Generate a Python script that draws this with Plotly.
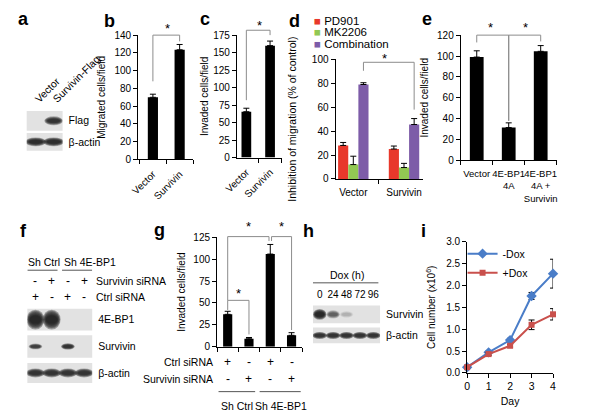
import plotly.graph_objects as go

W, H = 603, 419

# ---------------- data ----------------
b_cats = ["Vector", "Survivin"]
b_vals = [70, 123.5]
b_err = [3.5, 6]

c_cats = ["Vector", "Survivin"]
c_vals = [65.5, 160]
c_err = [5, 6.5]

d_groups = ["Vector", "Survivin"]
d_series = ["PD901", "MK2206", "Combination"]
d_pd901 = [28, 25]
d_pd901_err = [2.5, 2.5]
d_mk2206 = [12, 9.5]
d_mk2206_err = [7, 3.5]
d_combo = [79, 45.5]
d_combo_err = [1.5, 5]

e_cats = ["Vector", "4E-BP1<br>4A", "4E-BP1<br>4A +<br>Survivin"]
e_vals = [99, 31.5, 104.5]
e_err = [6, 4.5, 5.5]

g_cats = ["1", "2", "3", "4"]
g_vals = [37, 9, 106, 13]
g_err = [3.5, 1.5, 11, 3]
g_ctrl_sirna = ["+", "-", "+", "-"]
g_surv_sirna = ["-", "+", "-", "+"]
g_groups = ["Sh Ctrl", "Sh 4E-BP1"]

i_days = [0, 1, 2, 3, 4]
i_minus = [0.13, 0.47, 0.75, 1.76, 2.27]
i_minus_err = [0.02, 0.03, 0.04, 0.08, 0.33]
i_plus = [0.13, 0.43, 0.62, 1.10, 1.34]
i_plus_err = [0.02, 0.03, 0.03, 0.11, 0.13]

a_lanes = ["Vector", "Survivin-Flag"]
a_flag = [0.0, 0.85]
a_actin = [0.9, 0.9]

f_groups = ["Sh Ctrl", "Sh 4E-BP1"]
f_surv_sirna = ["-", "+", "-", "+"]
f_ctrl_sirna = ["+", "-", "+", "-"]
f_4ebp1 = [1.0, 1.0, 0.0, 0.0]
f_survivin = [0.7, 0.0, 0.85, 0.0]
f_actin = [0.85, 0.85, 0.85, 0.85]

h_lanes = ["0", "24", "48", "72", "96"]
h_survivin = [1.0, 0.45, 0.12, 0.0, 0.0]
h_actin = [0.85, 0.85, 0.85, 0.85, 0.85]

# ---------------- helpers ----------------
FONT = "Liberation Sans, Arial, Helvetica, sans-serif"
D_COLORS = ["#e8382b", "#92c853", "#7d5ca8"]
BLUE, RED = "#4a7dc8", "#c9504c"
BR_COLOR = "#8c8c8c"


def px2x(p):
    return p / W


def px2y(p):
    return 1 - p / H


def xdom(a, b):
    return [a / W, b / W]


def ydom(top, bot):
    return [1 - bot / H, 1 - top / H]


def xid(n):
    return "x" if n == 1 else f"x{n}"


def yid(n):
    return "y" if n == 1 else f"y{n}"


def xkey(n):
    return "xaxis" if n == 1 else f"xaxis{n}"


def ykey(n):
    return "yaxis" if n == 1 else f"yaxis{n}"


fig = go.Figure()
layout = {}
annotations = []
shapes = []


def value_axis(dom, rng, xa, dtick, title, standoff, fmt=None, tsize=10):
    d = dict(domain=dom, range=rng, anchor=xa, showline=True, linecolor="black",
             linewidth=1, ticks="outside", ticklen=4, tickwidth=1, tickcolor="black",
             tick0=0, dtick=dtick, showgrid=False, zeroline=False,
             tickfont=dict(size=10),
             title=dict(text=title, standoff=standoff, font=dict(size=tsize)),
             fixedrange=True)
    if fmt:
        d["tickformat"] = fmt
    return d


def cat_axis(dom, rng, ya, labels, angle=0, show=True, size=10):
    n = len(labels)
    return dict(domain=dom, range=rng, anchor=ya, showline=True, linecolor="black",
                linewidth=1, ticks="outside", ticklen=4, tickcolor="rgba(0,0,0,0)",
                tickvals=list(range(n)), ticktext=labels, tickangle=angle,
                showticklabels=show, showgrid=False, zeroline=False,
                tickfont=dict(size=size),
                minor=dict(ticks="outside", ticklen=4, tickcolor="black", tickwidth=1,
                           tickvals=[k - 0.5 for k in range(n + 1)], showgrid=False),
                fixedrange=True)


def bracket_axis(xa, top_main, bot, rmax, top_ext):
    return dict(domain=ydom(top_ext, bot),
                range=[0, rmax * (bot - top_ext) / (bot - top_main)],
                anchor=xa, visible=False, fixedrange=True)


def add_bars(xn, yn, vals, err, width, color="black", offset=None):
    xs = list(range(len(vals)))
    kw = {} if offset is None else {"offset": offset}
    fig.add_trace(go.Bar(
        x=xs, y=vals, width=width,
        marker=dict(color=color, line=dict(width=0)),
        error_y=dict(type="data", array=err, arrayminus=[0] * len(err),
                     symmetric=False, color="black", thickness=1, width=3),
        xaxis=xid(xn), yaxis=yid(yn), showlegend=False, hoverinfo="skip", **kw))


def add_bracket(xn, yn, x0, x1, top, lb, rb):
    fig.add_trace(go.Scatter(
        x=[x0, x0, x1, x1], y=[lb, top, top, rb], mode="lines",
        line=dict(color=BR_COLOR, width=1), xaxis=xid(xn), yaxis=yid(yn),
        showlegend=False, hoverinfo="skip"))


def add_star(xn, yn, x, y):
    annotations.append(dict(text="*", x=x, y=y, xref=xid(xn), yref=yid(yn),
                            showarrow=False, font=dict(size=13),
                            xanchor="center", yanchor="middle"))


def text_px(text, x, y, size=10.5, xanchor="center", bold=False, xref="paper"):
    annotations.append(dict(text=f"<b>{text}</b>" if bold else text,
                            x=x if xref != "paper" else px2x(x), y=px2y(y),
                            xref=xref, yref="paper", showarrow=False,
                            font=dict(size=size), xanchor=xanchor, yanchor="middle"))


# ---------------- panel b ----------------
layout[xkey(1)] = cat_axis(xdom(137, 197), [-0.55, 1.5], yid(1), b_cats, angle=-45)
layout[ykey(1)] = value_axis(ydom(30, 158), [0, 140], xid(1), 20, "Migrated cells/field", 6)
layout[ykey(2)] = bracket_axis(xid(1), 30, 158, 140, 5)
add_bars(1, 1, b_vals, b_err, 0.38)
add_bracket(1, 2, 0, 1, 140, 88, 133)
add_star(1, 2, 0.55, 148)

# ---------------- panel c ----------------
layout[xkey(2)] = cat_axis(xdom(245, 294.3), [-0.4, 1.5], yid(3), c_cats, angle=-45)
layout[ykey(3)] = value_axis(ydom(30, 156), [0, 175], xid(2), 25, "Invaded cells/field", 2)
layout[ykey(4)] = bracket_axis(xid(2), 30, 156, 175, 5)
add_bars(2, 3, c_vals, c_err, 0.41)
add_bracket(2, 4, 0, 1, 182, 82, 175)
add_star(2, 4, 0.55, 189)

# ---------------- panel d ----------------
layout[xkey(3)] = cat_axis(xdom(353, 449), [-0.35, 1.38], yid(5), d_groups, angle=0)
layout[ykey(5)] = value_axis(ydom(55, 178), [0, 100], xid(3), 20,
                             "Inhibition of migration (% of control)", 13, tsize=10.5)
layout[ykey(6)] = bracket_axis(xid(3), 55, 178, 100, 5)
for vals, errs, col, off in zip([d_pd901, d_mk2206, d_combo],
                                [d_pd901_err, d_mk2206_err, d_combo_err],
                                D_COLORS, [-0.3, -0.1, 0.1]):
    add_bars(3, 5, vals, errs, 0.2, color=col, offset=off)
add_bracket(3, 6, 0.2, 1.2, 97.6, 90.5, 58)
add_star(3, 6, 0.62, 101)
for k, (name, col) in enumerate(zip(d_series, D_COLORS)):
    annotations.append(dict(
        text=f'<span style="color:{col}">■</span> {name}',
        x=px2x(327), y=px2y(15 + 12 * k), xref="paper", yref="paper",
        showarrow=False, xanchor="left", yanchor="middle", font=dict(size=11.5)))

# ---------------- panel e ----------------
layout[xkey(4)] = cat_axis(xdom(490, 595), [-0.5, 2.5], yid(7), e_cats, angle=0, size=9.5)
layout[ykey(7)] = value_axis(ydom(30, 159), [0, 120], xid(4), 20, "Invaded cells/field", 6)
layout[ykey(8)] = bracket_axis(xid(4), 30, 159, 120, 5)
add_bars(4, 7, e_vals, e_err, 0.43)
add_bracket(4, 8, 0, 1, 120, 113, 38)
add_bracket(4, 8, 1, 2, 120, 38, 114)
add_star(4, 8, 0.44, 127)
add_star(4, 8, 1.53, 127)

# ---------------- panel g ----------------
layout[xkey(5)] = cat_axis(xdom(223.3, 316.5), [-0.5, 3.5], yid(9), g_cats, show=False)
layout[ykey(9)] = value_axis(ydom(238.3, 350.7), [0, 125], xid(5), 25, "Invaded cells/field", 5)
layout[ykey(10)] = bracket_axis(xid(5), 238.3, 350.7, 125, 212)
add_bars(5, 9, g_vals, g_err, 0.43)
add_bracket(5, 10, 0, 1, 53, 42, 14)
add_bracket(5, 10, 0, 1.94, 126, 53, 121)
add_bracket(5, 10, 2.06, 3, 126, 121, 19)
add_star(5, 10, 0.5, 61)
add_star(5, 10, 1.0, 137)
add_star(5, 10, 2.55, 137)
for k in range(len(g_cats)):
    text_px(g_ctrl_sirna[k], k, 366, size=12, xref=xid(5))
    text_px(g_surv_sirna[k], k, 384, size=12, xref=xid(5))
text_px("Ctrl siRNA", 221, 366, xanchor="right")
text_px("Survivin siRNA", 221, 384, xanchor="right")
text_px(g_groups[0], 0.43, 411.5, xref=xid(5))
text_px(g_groups[1], 2.5, 411.5, xref=xid(5))
for x0, x1 in [(-0.43, 1.29), (1.5, 3.43)]:
    shapes.append(dict(type="line", xref=xid(5), yref="paper", x0=x0, x1=x1,
                       y0=px2y(397), y1=px2y(397), line=dict(color="#555", width=1)))

# ---------------- panel i ----------------
layout[xkey(6)] = dict(domain=xdom(497, 591), range=[0, 4], anchor=yid(11), showline=True,
                       linecolor="black", linewidth=1, ticks="outside", ticklen=4,
                       tickcolor="black", dtick=1, tick0=0, showgrid=False, zeroline=False,
                       tickfont=dict(size=10.5),
                       title=dict(text="Day", standoff=6, font=dict(size=10.5)),
                       fixedrange=True)
layout[ykey(11)] = value_axis(ydom(242.7, 377.7), [0, 3], xid(6), 0.5,
                              "Cell number (x10<sup>6</sup>)", 8, fmt=".1f")
fig.add_trace(go.Scatter(
    x=i_days, y=i_minus, name="-Dox", mode="lines+markers",
    line=dict(color=BLUE, width=2), marker=dict(symbol="diamond", size=8, color=BLUE),
    error_y=dict(type="data", array=i_minus_err, color="black", thickness=1, width=3),
    xaxis=xid(6), yaxis=yid(11), cliponaxis=False, hoverinfo="skip"))
fig.add_trace(go.Scatter(
    x=i_days, y=i_plus, name="+Dox", mode="lines+markers",
    line=dict(color=RED, width=2), marker=dict(symbol="square", size=6, color=RED),
    error_y=dict(type="data", array=i_plus_err, color="black", thickness=1, width=3),
    xaxis=xid(6), yaxis=yid(11), cliponaxis=False, hoverinfo="skip"))


# ---------------- western blots ----------------
def blot_x(dom, n, ya, labels=None, angle=0, standoff=2, size=10):
    d = dict(domain=dom, range=[0.5, n + 0.5], anchor=ya, showline=False, showgrid=False,
             zeroline=False, ticks="", fixedrange=True)
    if labels:
        d.update(side="top", tickvals=list(range(1, n + 1)), ticktext=labels,
                 tickangle=angle, tickfont=dict(size=size), showticklabels=True,
                 ticklabelstandoff=standoff)
    else:
        d.update(showticklabels=False)
    return d


def blot_y(dom, xa, label):
    return dict(domain=dom, range=[0, 1], anchor=xa, side="right", showline=False,
                showgrid=False, zeroline=False, ticks="", tickvals=[0.5],
                ticktext=[label], tickfont=dict(size=10.5), ticklabelstandoff=5,
                fixedrange=True)


BAND_LAYERS = [(1.0, 1.0), (0.93, 0.88), (0.86, 0.76), (0.79, 0.64), (0.72, 0.52), (0.65, 0.4)]


def blot_row(xn, yn, intens, hw, hh, bg="#e2e2e2"):
    fig.add_trace(go.Scatter(x=[1], y=[0.5], mode="markers", marker=dict(opacity=0),
                             xaxis=xid(xn), yaxis=yid(yn), showlegend=False,
                             hoverinfo="skip"))
    shapes.append(dict(type="rect", xref=f"{xid(xn)} domain", yref=f"{yid(yn)} domain",
                       x0=0, x1=1, y0=0, y1=1, fillcolor=bg, line=dict(width=0),
                       layer="below"))
    for i, v in enumerate(intens):
        if v <= 0:
            continue
        lane = i + 1
        scale_h = hh * (0.55 + 0.45 * v)
        for sw, sh in BAND_LAYERS:
            shapes.append(dict(type="circle", xref=xid(xn), yref=yid(yn),
                               x0=lane - hw * sw, x1=lane + hw * sw,
                               y0=0.5 - scale_h * sh, y1=0.5 + scale_h * sh,
                               fillcolor="#1c1c1c", opacity=0.36 * v, line=dict(width=0)))


# a
layout[xkey(7)] = blot_x(xdom(15, 54.3), 2, yid(12), labels=a_lanes, angle=-45, standoff=3,
                         size=10.5)
layout[ykey(12)] = blot_y(ydom(108, 128.3), xid(7), "Flag")
layout[ykey(13)] = blot_y(ydom(130.7, 149), xid(7), "β-actin")
blot_row(7, 12, a_flag, 0.52, 0.24)
blot_row(7, 13, a_actin, 0.58, 0.26)

# f
layout[xkey(8)] = blot_x(xdom(15.7, 86.7), 4, yid(14))
layout[ykey(14)] = blot_y(ydom(311.7, 334), xid(8), "4E-BP1")
layout[ykey(15)] = blot_y(ydom(339, 362), xid(8), "Survivin")
layout[ykey(16)] = blot_y(ydom(367.5, 388), xid(8), "β-actin")
blot_row(8, 14, f_4ebp1, 0.55, 0.46)
blot_row(8, 15, f_survivin, 0.42, 0.15)
blot_row(8, 16, f_actin, 0.58, 0.24)
for k in range(4):
    text_px(f_surv_sirna[k], k + 1, 283.3, size=12, xref=xid(8))
    text_px(f_ctrl_sirna[k], k + 1, 299.3, size=12, xref=xid(8))
text_px("Survivin siRNA", 88.3, 283.3, xanchor="left")
text_px("Ctrl siRNA", 88.3, 299.3, xanchor="left")
text_px(f_groups[0], 1.5, 264, xref=xid(8))
text_px(f_groups[1], 2.66, 264, xref=xid(8), xanchor="left")
for x0, x1 in [(0.5, 2.36), (2.64, 4.5)]:
    shapes.append(dict(type="line", xref=xid(8), yref="paper", x0=x0, x1=x1,
                       y0=px2y(272), y1=px2y(272), line=dict(color="#555", width=1)))

# h
layout[xkey(9)] = blot_x(xdom(328.3, 401.7), 5, yid(17), labels=h_lanes, angle=0,
                         standoff=4, size=10)
layout[ykey(17)] = blot_y(ydom(308.3, 326.7), xid(9), "Survivin")
layout[ykey(18)] = blot_y(ydom(331, 347.3), xid(9), "β-actin")
blot_row(9, 17, h_survivin, 0.5, 0.3)
blot_row(9, 18, h_actin, 0.55, 0.24)
text_px("Dox (h)", 365, 277)
shapes.append(dict(type="line", xref=f"{xid(9)} domain", yref="paper", x0=0, x1=0.975,
                   y0=px2y(285), y1=px2y(285), line=dict(color="#555", width=1)))

# ---------------- panel letters ----------------
for letter, x, y in [("a", 11, 13.5), ("b", 106, 15), ("c", 210, 13.5), ("d", 308, 15),
                     ("e", 453, 13.5), ("f", 12, 232), ("g", 160, 231), ("h", 323, 232),
                     ("i", 449, 232)]:
    text_px(letter, x, y, size=18, bold=True)

layout.update(dict(
    width=W, height=H, margin=dict(l=0, r=0, t=0, b=0, pad=0), autosize=False,
    paper_bgcolor="white", plot_bgcolor="rgba(0,0,0,0)", barmode="overlay",
    font=dict(family=FONT, size=10, color="black"), hovermode=False,
    showlegend=True,
    legend=dict(x=px2x(492), y=px2y(240), xanchor="left", yanchor="top",
                bgcolor="rgba(0,0,0,0)", font=dict(size=10.5), tracegroupgap=0,
                itemclick=False, itemdoubleclick=False),
    annotations=annotations, shapes=shapes,
))
fig.update_layout(**layout)

fig.write_html("out.html", include_plotlyjs=True,
               config=dict(displayModeBar=False, staticPlot=True),
               post_script="document.body.style.margin='0';document.body.style.overflow='hidden';")
